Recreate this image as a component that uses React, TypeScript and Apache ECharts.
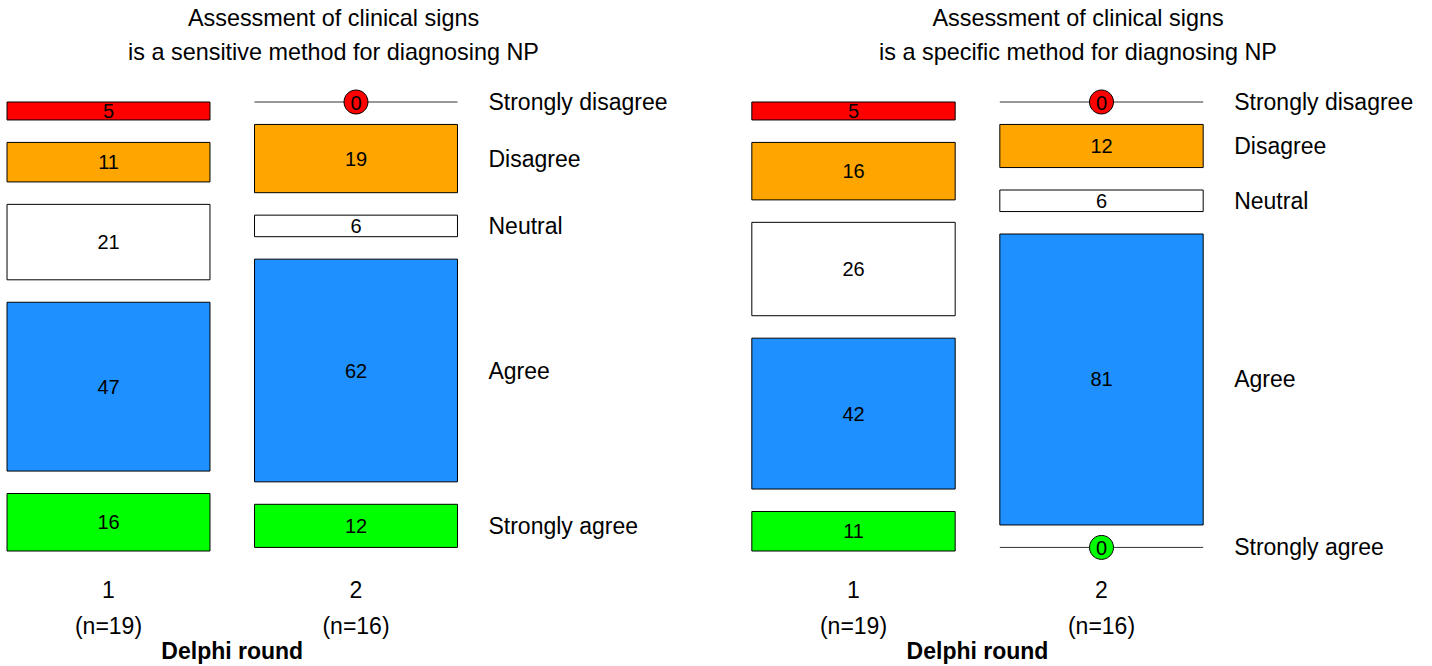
import React, { useEffect, useRef } from "react";
import * as echarts from "echarts";

const categories = ["Strongly disagree", "Disagree", "Neutral", "Agree", "Strongly agree"];
const categoryColors = ["#FF0000", "#FFA500", "#FFFFFF", "#1E90FF", "#00FF00"];
const rounds = ["1", "2"];
const roundN = [19, 16];

const sensitiveRound1 = [5, 11, 21, 47, 16];
const sensitiveRound2 = [0, 19, 6, 62, 12];
const specificRound1 = [5, 16, 26, 42, 11];
const specificRound2 = [0, 12, 6, 81, 0];

const titleSensitive = "Assessment of clinical signs\nis a sensitive method for diagnosing NP";
const titleSpecific = "Assessment of clinical signs\nis a specific method for diagnosing NP";
const axisName = "Delphi round";

const GAP = 6.25;
const Y_MAX = 100 + 4 * GAP;
const BAR_RATIO = 0.82;
const FONT = "'Liberation Sans', Arial, Helvetica, sans-serif";

function buildData(roundValues: number[][]) {
  const out: number[][] = [];
  roundValues.forEach((vals, r) => {
    let start = 0;
    vals.forEach((v, k) => {
      out.push([r, start, v, k]);
      start += v + GAP;
    });
  });
  return out;
}

function renderItem(params: any, api: any) {
  const r = api.value(0);
  const start = api.value(1);
  const v = api.value(2);
  const k = api.value(3);
  const p0 = api.coord([r, start]);
  const p1 = api.coord([r, start + v]);
  const band = api.size([1, 0])[0];
  const w = band * BAR_RATIO;
  const cx = p0[0];
  const children: any[] = [];
  const yMid = (p0[1] + p1[1]) / 2;
  if (v > 0) {
    children.push({
      type: "rect",
      shape: { x: cx - w / 2, y: p0[1], width: w, height: p1[1] - p0[1] },
      style: { fill: categoryColors[k], stroke: "#000", lineWidth: 1 },
    });
    children.push({
      type: "text",
      x: cx,
      y: yMid,
      style: { text: String(v), align: "center", verticalAlign: "middle", fontSize: 20, fontFamily: FONT, fill: "#000" },
    });
  } else {
    children.push({
      type: "line",
      shape: { x1: cx - w / 2, y1: p0[1], x2: cx + w / 2, y2: p0[1] },
      style: { stroke: "#333", lineWidth: 1 },
    });
    children.push({
      type: "circle",
      shape: { cx: cx, cy: p0[1], r: 12 },
      style: { fill: categoryColors[k], stroke: "#000", lineWidth: 1 },
    });
    children.push({
      type: "text",
      x: cx,
      y: p0[1] + 1,
      style: { text: "0", align: "center", verticalAlign: "middle", fontSize: 20, fontFamily: FONT, fill: "#000" },
    });
  }
  if (r === rounds.length - 1) {
    children.push({
      type: "text",
      x: cx + w / 2 + 31,
      y: yMid,
      style: { text: categories[k], align: "left", verticalAlign: "middle", fontSize: 23, fontFamily: FONT, fill: "#000" },
    });
  }
  return { type: "group", children };
}

function makeXAxis(gridIndex: number) {
  return {
    type: "category",
    gridIndex,
    data: rounds,
    boundaryGap: false,
    axisLine: { show: false },
    axisTick: { show: false },
    splitLine: { show: false },
    axisLabel: {
      interval: 0,
      margin: 21,
      fontSize: 23,
      lineHeight: 36,
      fontFamily: FONT,
      color: "#000",
      formatter: (val: string, idx: number) => `${val}\n(n=${roundN[idx]})`,
    },
    name: axisName,
    nameLocation: "middle",
    nameGap: 88,
    nameMoveOverlap: false,
    nameTextStyle: { fontSize: 23, fontWeight: "bold", fontFamily: FONT, color: "#000" },
  };
}

function makeYAxis(gridIndex: number) {
  return { type: "value", gridIndex, inverse: true, min: 0, max: Y_MAX, interval: 25, show: false };
}

export default function App() {
  const ref = useRef<HTMLDivElement>(null);
  useEffect(() => {
    if (!ref.current) return;
    const chart = echarts.init(ref.current, undefined, { renderer: "svg" });
    const titleStyle = { fontSize: 23.4, fontWeight: "normal", fontFamily: FONT, color: "#000", lineHeight: 34 };
    chart.setOption({
      animation: false,
      backgroundColor: "#fff",
      title: [
        { text: titleSensitive, left: 333.5, top: 1, padding: 0, textAlign: "center", textStyle: titleStyle },
        { text: titleSpecific, left: 1078, top: 1, padding: 0, textAlign: "center", textStyle: titleStyle },
      ],
      grid: [
        { left: 108.5, width: 247.5, top: 102, height: 449, containLabel: false, outerBoundsMode: "none" },
        { left: 853.5, width: 248, top: 102, height: 449, containLabel: false, outerBoundsMode: "none" },
      ],
      xAxis: [makeXAxis(0), makeXAxis(1)],
      yAxis: [makeYAxis(0), makeYAxis(1)],
      series: [
        {
          type: "custom",
          xAxisIndex: 0,
          yAxisIndex: 0,
          clip: false,
          renderItem,
          encode: { x: 0, y: 1 },
          data: buildData([sensitiveRound1, sensitiveRound2]),
        },
        {
          type: "custom",
          xAxisIndex: 1,
          yAxisIndex: 1,
          clip: false,
          renderItem,
          encode: { x: 0, y: 1 },
          data: buildData([specificRound1, specificRound2]),
        },
      ],
    });
    return () => chart.dispose();
  }, []);
  return <div ref={ref} style={{ position: "fixed", left: 0, top: 0, width: 1432, height: 666 }} />;
}
